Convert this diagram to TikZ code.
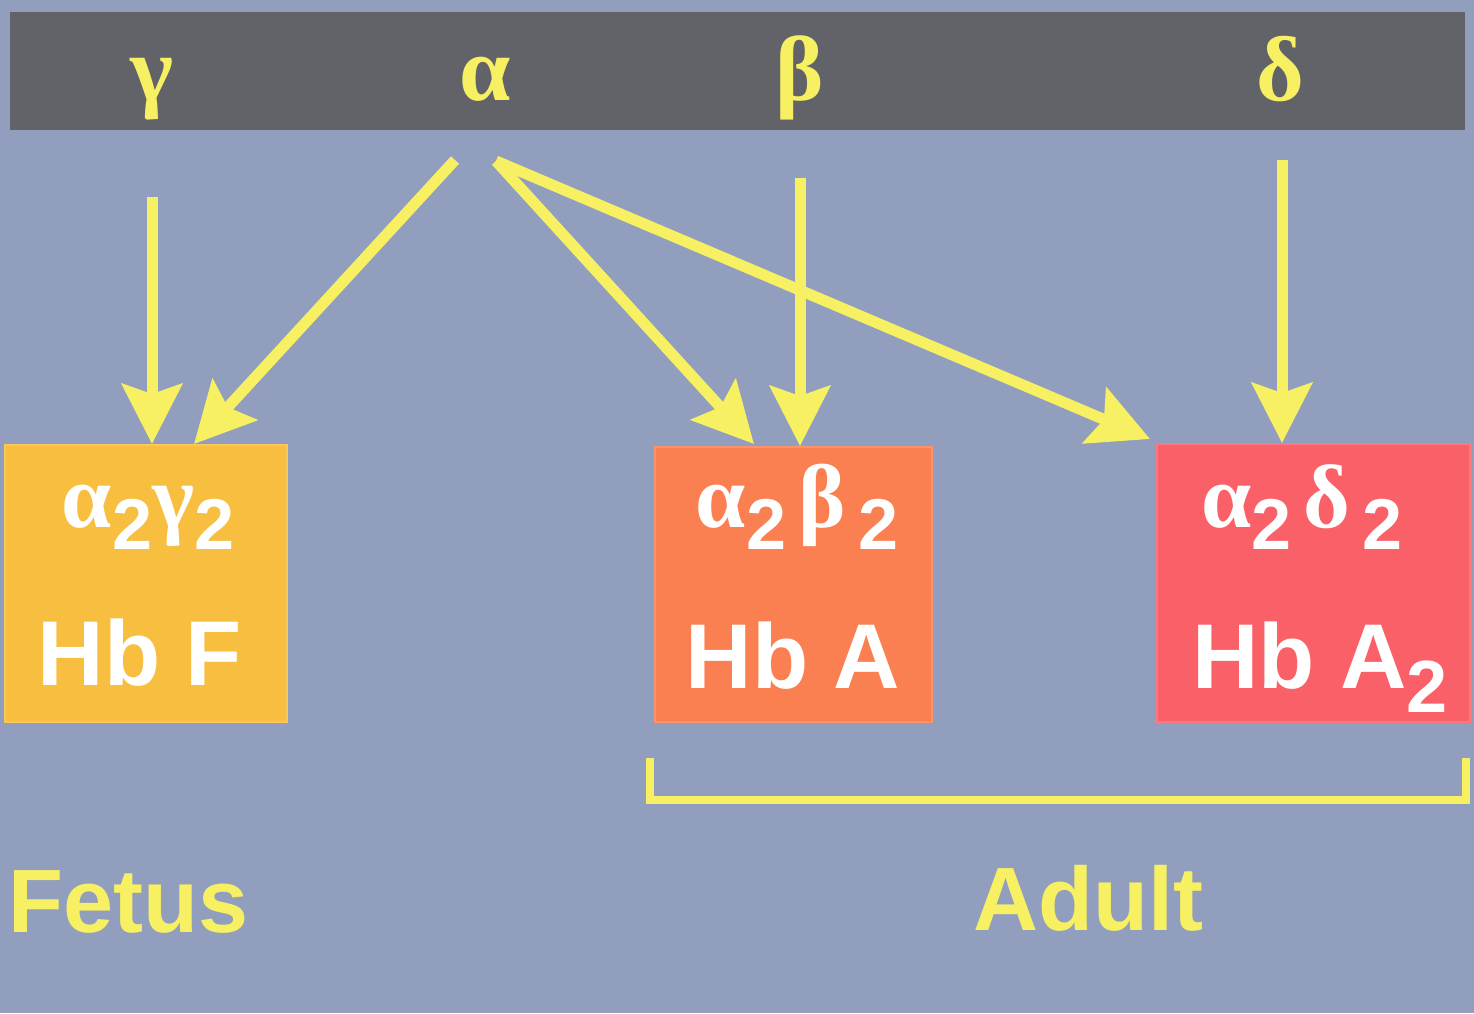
\documentclass[tikz,border=0pt]{standalone}
\usepackage{fontspec}
\setmainfont{Liberation Sans}
\newfontfamily\grfont{Liberation Serif}
\usetikzlibrary{arrows.meta,calc}
\definecolor{bgc}{RGB}{145,158,189}
\definecolor{barc}{RGB}{98,99,104}
\definecolor{yel}{RGB}{246,240,98}
\definecolor{hbfc}{RGB}{247,190,64}
\definecolor{hbac}{RGB}{250,128,82}
\definecolor{hbaac}{RGB}{250,96,104}
\newcommand\gk[1]{{\grfont\bfseries\fontsize{90}{90}\selectfont #1}}
\newcommand\mysub[1]{\raisebox{-22pt}{\bfseries\fontsize{72}{72}\selectfont #1}}
\tikzset{
  gene/.style={anchor=base, text=yel, inner sep=0pt, font=\grfont\bfseries\fontsize{92}{92}\selectfont},
  hbbox/.style={inner sep=0pt, draw=#1!85!white, line width=2pt, fill=#1},
  chain/.style={anchor=base, text=white, inner sep=0pt, font=\fontsize{74}{74}\selectfont},
  hbname/.style={anchor=base, text=white, inner sep=0pt, font=\bfseries\fontsize{92}{92}\selectfont},
  stage/.style={anchor=base, text=yel, inner sep=0pt, font=\bfseries\fontsize{90}{90}\selectfont},
  arr/.style={draw=yel, line width=11pt, -{Stealth[length=60pt,width=60pt,inset=10pt]}},
}
\begin{document}
\begin{tikzpicture}[x=1pt,y=-1pt]
\fill[bgc] (0,0) rectangle (1474,1013);
\useasboundingbox (0,0) rectangle (1474,1013);
\fill[barc] (10,12) rectangle (1465,130);
% genes
\node[gene] (g) at (152,100) {γ};
\node[gene] (a) at (485,100) {α};
\node[gene] (b) at (800,100) {β};
\node[gene] (d) at (1280,100) {δ};
% arrow starts
\coordinate (gs) at (152,197);
\coordinate (as1) at (455,160);
\coordinate (as2) at (496,161);
\coordinate (bs) at (800,178);
\coordinate (ds) at (1282,160);
% boxes
\node[hbbox=hbfc, minimum width=282pt, minimum height=277pt] (hbf) at (146,583.5) {};
\node[hbbox=hbac, minimum width=277pt, minimum height=275pt] (hba) at (793.5,584.5) {};
\node[hbbox=hbaac, minimum width=313pt, minimum height=278pt] (hbaa) at (1313.5,583) {};
% arrows
\draw[arr] (gs) -- (gs |- hbf.north);
\draw[arr] (as1) -- ($(hbf.north west)+(190,0)$);
\draw[arr] (as2) -- ($(hba.north west)+(100,-2)$);
\draw[arr] (as2) -- ($(hbaa.north west)+(-6,-4)$);
\draw[arr] (bs) -- (bs |- hba.north);
\draw[arr] (ds) -- (ds |- hbaa.north);
% box texts
\node[chain] (cf) at (148,527) {\gk{α}\mysub{2}\gk{γ}\mysub{2}};
\node[chain] (ca) at (797,527) {\gk{α}\mysub{2}\,\gk{β}\,\mysub{2}};
\node[chain] (caa) at (1302,527) {\gk{α}\mysub{2}\,\gk{δ}\,\mysub{2}};
\node[hbname] (nf) at (140,685) {Hb F};
\node[hbname] (na) at (793,688) {Hb A};
\node[hbname] (naa) at (1320,688) {Hb A\raisebox{-24pt}{\fontsize{74}{74}\selectfont 2}};
% bracket
\coordinate (bl) at (650,758);
\coordinate (br) at (1466,758);
\draw[yel, line width=8pt] (bl) -- (650,800) -- (1466,800) -- (br);
% stages
\node[stage, anchor=base west] (fetus) at (8,932) {Fetus};
\node[stage] (adult) at (1088,930) {Adult};
\end{tikzpicture}
\end{document}
